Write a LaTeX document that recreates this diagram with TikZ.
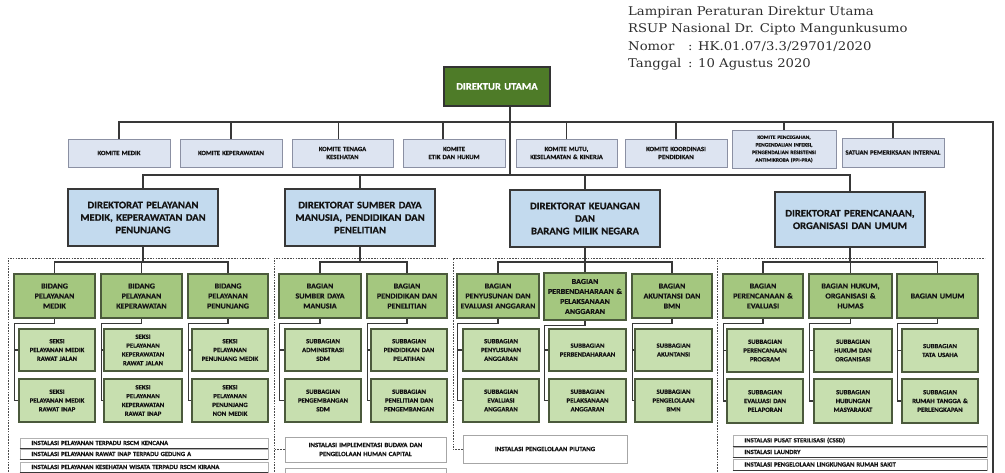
\documentclass[tikz,border=0pt]{standalone}
\usepackage{fontspec}
\setmainfont{DejaVu Serif}
\setsansfont{Carlito}[FakeStretch=1.06,BoldFeatures={FakeBold=0.6}]
\newfontfamily\hdrfont{DejaVu Serif}[FakeStretch=1.1]
\usetikzlibrary{calc}

\definecolor{duG}{HTML}{4E7B28}
\definecolor{komF}{HTML}{DDE4F1}
\definecolor{komD}{HTML}{8B90A3}
\definecolor{dirF}{HTML}{C3DAEE}
\definecolor{bidF}{HTML}{A4C77F}
\definecolor{sekF}{HTML}{C7DFAF}
\definecolor{grD}{HTML}{4B5A3C}
\definecolor{lnC}{HTML}{383838}
\definecolor{txC}{HTML}{141414}
\definecolor{hdC}{HTML}{2E2E2E}

\newcommand\bx[7]{%
 \pgfmathsetmacro\myBW{#5-#3}\pgfmathsetmacro\myBH{#6-#4}\pgfmathsetmacro\myTW{#5-#3-3}%
 \node[#2,minimum width=\myBW pt,minimum height=\myBH pt,text width=\myTW pt,inner xsep=1.5pt,inner ysep=0pt] (#1) at ({(#3+#5)/2},{(#4+#6)/2}) {#7};}

\newcommand\sekconn[3]{%
 \coordinate (#1L) at ([xshift=1pt,yshift=-5pt]#1.south west);
 \draw[conn] (#1.south) |- (#1L) |- (#3.west);
 \draw[conn] (#2.west) -- (#2.west -| #1L);}

\tikzset{
 du/.style={draw=black!80,line width=1.2pt,fill=duG,text=white,font=\sffamily\bfseries\fontsize{10}{12}\selectfont,align=center},
 kom/.style={draw=komD,line width=1pt,fill=komF,text=txC,font=\sffamily\bfseries\fontsize{6.3}{8}\selectfont,align=center},
 kompp/.style={kom,font=\sffamily\bfseries\fontsize{5.2}{7.6}\selectfont},
 dir/.style={draw=lnC,line width=1.2pt,fill=dirF,text=txC,font=\sffamily\bfseries\fontsize{10}{12.5}\selectfont,align=center},
 bid/.style={draw=grD,line width=1.2pt,fill=bidF,text=txC,font=\sffamily\bfseries\fontsize{7.6}{10}\selectfont,align=center},
 sek/.style={draw=grD,line width=1.2pt,fill=sekF,text=txC,font=\sffamily\bfseries\fontsize{6.4}{8.8}\selectfont,align=center},
 inst/.style={draw=gray!70,line width=0.8pt,fill=white,text=txC,font=\sffamily\bfseries\fontsize{6.4}{9}\selectfont,align=center},
 rowbox/.style={draw=gray!60,line width=0.6pt,fill=white,text=txC,font=\sffamily\bfseries\fontsize{6.2}{7}\selectfont,align=left},
 conn/.style={draw=lnC,line width=1.1pt},
 frameline/.style={draw=gray!60!black,line width=1pt,dash pattern=on 1.6pt off 1.2pt},
 thickrule/.style={draw=lnC,line width=1.6pt},
 hdr/.style={anchor=base west,inner sep=0pt,text=hdC,font=\hdrfont\fontsize{12}{14}\selectfont}
}

\begin{document}
\begin{tikzpicture}[x=1pt,y=-1pt]
\useasboundingbox (0,0) rectangle (1005,472);
\fill[white] (0,0) rectangle (1005,472);
\clip (0,0) rectangle (1005,472);

% header text
\node[hdr] (h1) at (628,15) {Lampiran Peraturan Direktur Utama};
\node[hdr] (h2) at (628,32.5) {RSUP Nasional Dr. Cipto Mangunkusumo};
\node[hdr] (h3) at (628,50) {Nomor};
\node[hdr] (h3b) at (688,50) {: HK.01.07/3.3/29701/2020};
\node[hdr] (h4) at (628,67.5) {Tanggal};
\node[hdr] (h4b) at (688,67.5) {: 10 Agustus 2020};

% director
\bx{du}{du}{444}{67}{550}{106}{DIREKTUR UTAMA}

% committees
\bx{k1}{kom}{68}{139}{170}{167}{KOMITE MEDIK}
\bx{k2}{kom}{180}{139}{282}{167}{KOMITE KEPERAWATAN}
\bx{k3}{kom}{292}{139}{393}{167}{KOMITE TENAGA\\KESEHATAN}
\bx{k4}{kom}{403}{139}{505}{167}{KOMITE\\ETIK DAN HUKUM}
\bx{k5}{kom}{516}{139}{617}{167}{KOMITE MUTU,\\KESELAMATAN \& KINERJA}
\bx{k6}{kom}{625}{139}{727}{167}{KOMITE KOORDINASI\\PENDIDIKAN}
\bx{k7}{kompp}{732}{130}{836}{168}{KOMITE PENCEGAHAN,\\PENGENDALIAN INFEKSI,\\PENGENDALIAN RESISTENSI\\ANTIMIKROBA (PPI-PRA)}
\bx{k8}{kom}{842}{138}{944}{167}{SATUAN PEMERIKSAAN INTERNAL}

\coordinate (busR) at (993,122);
\coordinate (rEnd) at (993,480);
\draw[conn] (k1.north) |- (busR) -- (rEnd);
\draw[conn] (k2.north) -- (k2.north |- busR);
\draw[conn] ([xshift=-4pt]k3.north) -- ([xshift=-4pt]k3.north |- busR);
\draw[conn] ([xshift=-11pt]k4.north) -- ([xshift=-11pt]k4.north |- busR);
\draw[conn] (k5.north) -- (k5.north |- busR);
\draw[conn] (k6.north) -- (k6.north |- busR);
\draw[conn] (k7.north) -- (k7.north |- busR);
\draw[conn] (k8.north) -- (k8.north |- busR);

% directorates
\bx{d1}{dir}{68}{189}{218}{246}{DIREKTORAT PELAYANAN\\MEDIK, KEPERAWATAN DAN\\PENUNJANG}
\bx{d2}{dir}{285}{189}{435}{246}{DIREKTORAT SUMBER DAYA\\MANUSIA, PENDIDIKAN DAN\\PENELITIAN}
\bx{d3}{dir}{510}{190}{660}{247}{DIREKTORAT KEUANGAN\\DAN\\BARANG MILIK NEGARA}
\bx{d4}{dir}{775}{192}{925}{247}{DIREKTORAT PERENCANAAN,\\ORGANISASI DAN UMUM}

\coordinate (dbus) at (0,175);
\draw[conn] ([xshift=13pt]du.south) -- ([xshift=13pt]du.south |- dbus);
\draw[conn] (d1.north) -- (d1.north |- dbus) -- (d4.north |- dbus) -- (d4.north);
\draw[conn] (d2.north) -- (d2.north |- dbus);
\draw[conn] (d3.north) -- (d3.north |- dbus);

% dashed frames
\draw[frameline] (8,480) -- (8,258) -- (270,258);
\draw[frameline] (274,480) -- (274,258) -- (449,258);
\draw[frameline] (453,448) -- (453,258) -- (714,258);
\draw[frameline] (717,480) -- (717,258) -- (985,258);

\coordinate (sb) at (0,262);

% group 1
\bx{b11}{bid}{14}{274}{95}{318}{BIDANG\\PELAYANAN\\MEDIK}
\bx{b12}{bid}{101}{274}{182}{318}{BIDANG\\PELAYANAN\\KEPERAWATAN}
\bx{b13}{bid}{188}{274}{268}{318}{BIDANG\\PELAYANAN\\PENUNJANG}
\bx{s111}{sek}{19}{329}{95}{371}{SEKSI\\PELAYANAN MEDIK\\RAWAT JALAN}
\bx{s112}{sek}{19}{379}{95}{422}{SEKSI\\PELAYANAN MEDIK\\RAWAT INAP}
\bx{s121}{sek}{104}{329}{182}{371}{SEKSI\\PELAYANAN\\KEPERAWATAN\\RAWAT JALAN}
\bx{s122}{sek}{104}{379}{182}{422}{SEKSI\\PELAYANAN\\KEPERAWATAN\\RAWAT INAP}
\bx{s131}{sek}{192}{329}{268}{371}{SEKSI\\PELAYANAN\\PENUNJANG MEDIK}
\bx{s132}{sek}{192}{379}{268}{422}{SEKSI\\PELAYANAN\\PENUNJANG\\NON MEDIK}
\draw[conn] (d1.south) -- (d1.south |- sb);
\draw[conn] (b11.north) -- (b11.north |- sb) -- (b13.north |- sb) -- (b13.north);
\draw[conn] (b12.north) -- (b12.north |- sb);
\sekconn{b11}{s111}{s112}
\sekconn{b12}{s121}{s122}
\sekconn{b13}{s131}{s132}

\bx{r11}{rowbox}{20}{438}{268}{448}{\hspace*{10pt}INSTALASI PELAYANAN TERPADU RSCM KENCANA}
\bx{r12}{rowbox}{20}{449}{268}{459}{\hspace*{10pt}INSTALASI PELAYANAN RAWAT INAP TERPADU GEDUNG A}
\bx{r13}{rowbox}{20}{462}{268}{472}{\hspace*{10pt}INSTALASI PELAYANAN KESEHATAN WISATA TERPADU RSCM KIRANA}
\draw[thickrule] (r11.south west) -- (r11.south east);
\draw[thickrule] (r12.south west) -- (r12.south east);
\draw[thickrule] (r13.south west) -- (r13.south east);

% group 2
\bx{b21}{bid}{279}{274}{361}{318}{BAGIAN\\SUMBER DAYA\\MANUSIA}
\bx{b22}{bid}{367}{274}{447}{318}{BAGIAN\\PENDIDIKAN DAN\\PENELITIAN}
\bx{s211}{sek}{285}{329}{361}{371}{SUBBAGIAN\\ADMINISTRASI\\SDM}
\bx{s212}{sek}{285}{379}{361}{422}{SUBBAGIAN\\PENGEMBANGAN\\SDM}
\bx{s221}{sek}{371}{329}{447}{371}{SUBBAGIAN\\PENDIDIKAN DAN\\PELATIHAN}
\bx{s222}{sek}{371}{379}{447}{422}{SUBBAGIAN\\PENELITIAN DAN\\PENGEMBANGAN}
\draw[conn] (d2.south) -- (d2.south |- sb);
\draw[conn] (b21.north) -- (b21.north |- sb) -- (b22.north |- sb) -- (b22.north);
\sekconn{b21}{s211}{s212}
\sekconn{b22}{s221}{s222}
\bx{i21}{inst}{285}{437}{446}{462}{INSTALASI IMPLEMENTASI BUDAYA DAN\\PENGELOLAAN HUMAN CAPITAL}
\bx{i22}{inst}{285}{468}{446}{492}{~}
\draw[frameline] (i21.west) -- (i21.west -| 274,0);

% group 3
\bx{b31}{bid}{457}{274}{539}{318}{BAGIAN\\PENYUSUNAN DAN\\EVALUASI ANGGARAN}
\bx{b32}{bid}{544}{273}{626}{320}{BAGIAN\\PERBENDAHARAAN \&\\PELAKSANAAN\\ANGGARAN}
\bx{b33}{bid}{632}{274}{712}{318}{BAGIAN\\AKUNTANSI DAN\\BMN}
\bx{s311}{sek}{463}{329}{539}{371}{SUBBAGIAN\\PENYUSUNAN\\ANGGARAN}
\bx{s312}{sek}{463}{379}{539}{422}{SUBBAGIAN\\EVALUASI\\ANGGARAN}
\bx{s321}{sek}{549}{329}{626}{371}{SUBBAGIAN\\PERBENDAHARAAN}
\bx{s322}{sek}{549}{379}{626}{422}{SUBBAGIAN\\PELAKSANAAN\\ANGGARAN}
\bx{s331}{sek}{635}{329}{712}{371}{SUBBAGIAN\\AKUNTANSI}
\bx{s332}{sek}{635}{379}{712}{422}{SUBBAGIAN\\PENGELOLAAN\\BMN}
\draw[conn] (d3.south) -- (d3.south |- sb);
\draw[conn] (b31.north) -- (b31.north |- sb) -- (b33.north |- sb) -- (b33.north);
\draw[conn] (b32.north) -- (b32.north |- sb);
\sekconn{b31}{s311}{s312}
\sekconn{b32}{s321}{s322}
\sekconn{b33}{s331}{s332}
\bx{i31}{inst}{463}{435}{627}{463}{INSTALASI PENGELOLAAN PIUTANG}
\draw[frameline] (i31.west) -- (i31.west -| 453,0);

% group 4
\bx{b41}{bid}{723}{274}{803}{318}{BAGIAN\\PERENCANAAN \&\\EVALUASI}
\bx{b42}{bid}{809}{274}{892}{318}{BAGIAN HUKUM,\\ORGANISASI \&\\HUMAS}
\bx{b43}{bid}{897}{274}{978}{318}{BAGIAN UMUM}
\bx{s411}{sek}{727}{329}{803}{372}{SUBBAGIAN\\PERENCANAAN\\PROGRAM}
\bx{s412}{sek}{727}{379}{803}{423}{SUBBAGIAN\\EVALUASI DAN\\PELAPORAN}
\bx{s421}{sek}{814}{329}{892}{372}{SUBBAGIAN\\HUKUM DAN\\ORGANISASI}
\bx{s422}{sek}{814}{379}{892}{423}{SUBBAGIAN\\HUBUNGAN\\MASYARAKAT}
\bx{s431}{sek}{902}{329}{978}{372}{SUBBAGIAN\\TATA USAHA}
\bx{s432}{sek}{902}{379}{978}{423}{SUBBAGIAN\\RUMAH TANGGA \&\\PERLENGKAPAN}
\draw[conn] (d4.south) -- (d4.south |- sb);
\draw[conn] (b41.north) -- (b41.north |- sb) -- (b43.north |- sb) -- (b43.north);
\draw[conn] (b42.north) -- (b42.north |- sb);
\sekconn{b41}{s411}{s412}
\sekconn{b42}{s421}{s422}
\sekconn{b43}{s431}{s432}

\bx{r41}{rowbox}{733}{435}{987}{446}{\hspace*{10pt}INSTALASI PUSAT STERILISASI (CSSD)}
\bx{r42}{rowbox}{733}{447}{987}{457}{\hspace*{10pt}INSTALASI LAUNDRY}
\bx{r43}{rowbox}{733}{459}{987}{470}{\hspace*{10pt}INSTALASI PENGELOLAAN LINGKUNGAN RUMAH SAKIT}
\draw[thickrule] (r41.south west) -- (r41.south east);
\draw[thickrule] (r42.south west) -- (r42.south east);
\draw[thickrule] (r43.south west) -- (r43.south east);
\end{tikzpicture}
\end{document}
